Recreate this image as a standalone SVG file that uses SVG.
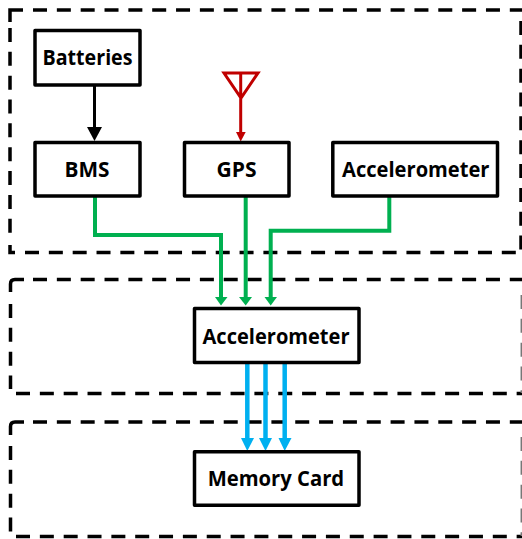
<svg xmlns="http://www.w3.org/2000/svg" width="522" height="539" viewBox="0 0 522 539">
<style>
.zone{fill:none;stroke:#000;stroke-width:3.500}
.dash{stroke-dasharray:14 9.840}
.edge{stroke:#777;stroke-width:1.500}
.box{fill:#fff;stroke:#000;stroke-width:3.500;stroke-linejoin:round}
text{font-family:"Open Sans","Noto Sans","Liberation Sans",sans-serif;font-weight:700;font-size:21px;fill:#000}
.g{fill:none;stroke:#00b050;stroke-width:4}
.gh{fill:#00b050}
.b{fill:none;stroke:#00b0f0;stroke-width:4.500}
.bh{fill:#00b0f0}
.r{fill:none;stroke:#c00000;stroke-width:3}
</style>
<g id="zone-top">
<path class="zone" d="M10 22V10H23"/>
<path class="zone dash" d="M33 10H522"/>
<path class="zone dash" d="M521 21V250"/>
<path class="zone dash" d="M25 252.500H516"/>
<path class="zone dash" d="M10 28V240"/>
<path class="zone" d="M10 245V252.500H15"/>
</g>
<g id="zone-middle">
<path class="zone" d="M10.500 292V284Q10.500 279.500 15 279.500H24"/>
<path class="zone dash" d="M33 279.500H522"/>
<path class="zone dash" d="M10.500 304V389"/>
<path class="zone dash" d="M16 393.500H522"/>
<path class="edge dash" d="M521.300 295V393"/>
</g>
<g id="zone-bottom">
<path class="zone" d="M10.500 435V426.500Q10.500 422 15 422H24"/>
<path class="zone dash" d="M33 422H522"/>
<path class="zone dash" d="M10.500 446V532"/>
<path class="zone dash" d="M16 536.500H522"/>
<path class="edge dash" d="M521.300 437V536"/>
</g>
<g id="connectors">
<path d="M94.500 85V128" fill="none" stroke="#000" stroke-width="3"/><path d="M87 127H102L94.500 141Z" fill="#000"/>
<path class="r" d="M240.700 99V133"/><path d="M236 132H245.700L240.700 141.500Z" fill="#c00000"/>
<path class="r" d="M224 73H258L241 98Z M240.700 73V99"/>
<path class="g" d="M95 197V235H221V298"/><path class="gh" d="M215 297H227.500L221 305.500Z"/>
<path class="g" d="M245.700 197V298"/><path class="gh" d="M239 297H252L245.700 305.500Z"/>
<path class="g" d="M389.300 197V230.700H270.700V298"/><path class="gh" d="M264.500 297H277L270.700 305.500Z"/>
<path class="b" d="M247.300 364V440"/><path class="bh" d="M241 438H254L247.300 451Z"/>
<path class="b" d="M265.500 364V440"/><path class="bh" d="M259 438H272L265.500 451Z"/>
<path class="b" d="M284.700 364V440"/><path class="bh" d="M278.500 438H291.500L284.700 451Z"/>
</g>
<g id="batteries"><rect class="box" x="35" y="30.500" width="105" height="54.500"/><text x="42.500" y="65" textLength="90" lengthAdjust="spacingAndGlyphs">Batteries</text></g>
<g id="bms"><rect class="box" x="35" y="142.500" width="105" height="53.500"/><text x="64.500" y="176.700" textLength="45" lengthAdjust="spacingAndGlyphs">BMS</text></g>
<g id="gps"><rect class="box" x="184.500" y="142.500" width="104.500" height="53.500"/><text x="216.500" y="176.700" textLength="40" lengthAdjust="spacingAndGlyphs">GPS</text></g>
<g id="accelerometer-sensor"><rect class="box" x="332.800" y="142.500" width="164.700" height="53.500"/><text x="342" y="176.700" textLength="147.500" lengthAdjust="spacingAndGlyphs">Accelerometer</text></g>
<g id="accelerometer-main"><rect class="box" x="194.500" y="308.500" width="164.500" height="54"/><text x="202.500" y="344" textLength="147" lengthAdjust="spacingAndGlyphs">Accelerometer</text></g>
<g id="memory-card"><rect class="box" x="194.500" y="451.800" width="164.500" height="53.400"/><text x="207.700" y="486.300" textLength="136.500" lengthAdjust="spacingAndGlyphs">Memory Card</text></g>
</svg>
